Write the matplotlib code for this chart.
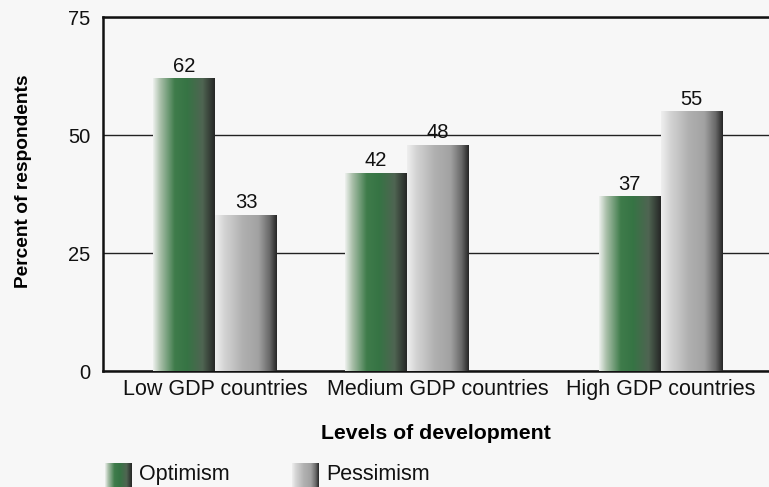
import numpy as np
import matplotlib
matplotlib.use('agg')
import matplotlib.pyplot as plt
from matplotlib.colors import LinearSegmentedColormap
from matplotlib.patches import Rectangle

categories = ['Low GDP countries', 'Medium GDP countries', 'High GDP countries']
optimism = [62, 42, 37]
pessimism = [33, 48, 55]
series_names = ['Optimism', 'Pessimism']

plt.rcParams['font.family'] = ['Liberation Sans', 'DejaVu Sans']
bg = '#f7f7f7'
fs = 14.5

# horizontal shading so the bars look rounded
green_cmap = LinearSegmentedColormap.from_list(
    'green_bar', [(0.0, '#eef1ee'), (0.12, '#a9bfa9'), (0.35, '#3f7c4b'),
                  (0.55, '#367444'), (0.8, '#4f6552'), (1.0, '#262626')])
grey_cmap = LinearSegmentedColormap.from_list(
    'grey_bar', [(0.0, '#efefef'), (0.15, '#d4d4d4'), (0.45, '#b0b0b0'),
                 (0.7, '#a2a2a2'), (0.88, '#6a6a6a'), (1.0, '#262626')])
ramp = np.linspace(0, 1, 256).reshape(1, -1)


def shade_bars(ax, bars, cmap):
    for b in bars:
        x0, y0 = b.get_x(), b.get_y()
        w, h = b.get_width(), b.get_height()
        b.set_facecolor('none')
        b.set_edgecolor('none')
        img = ax.imshow(ramp, cmap=cmap, aspect='auto',
                        extent=[x0, x0 + w, y0, y0 + h], zorder=3)
        clip = Rectangle((x0, y0), w, h, transform=ax.transData)
        img.set_clip_path(clip)


fig = plt.figure(figsize=(7.69, 4.87), dpi=100, facecolor=bg)
ax = fig.add_axes([0.134, 0.238, 0.866, 0.727])
ax.set_facecolor(bg)

x = np.arange(len(categories))
# the middle pair sits a little left of its label
group_x = x + np.array([0.0, -0.139, 0.0])
width = 0.278
bars_opt = ax.bar(group_x - width / 2, optimism, width, zorder=3)
bars_pes = ax.bar(group_x + width / 2, pessimism, width, zorder=3)
shade_bars(ax, bars_opt, green_cmap)
shade_bars(ax, bars_pes, grey_cmap)

for xs, vals in ((group_x - width / 2, optimism), (group_x + width / 2, pessimism)):
    for xi, v in zip(xs, vals):
        ax.text(xi, v + 0.6, str(v), ha='center', va='bottom',
                fontsize=fs, color='#111111', zorder=4)

ax.set_xlim(-0.502, 2.485)
ax.set_ylim(0, 75)
ax.set_yticks([0, 25, 50, 75])
ax.set_xticks(x)
ax.set_xticklabels(categories, fontsize=15.5)
ax.tick_params(axis='both', length=0, colors='#111111')
ax.tick_params(axis='y', labelsize=fs, pad=9)
ax.tick_params(axis='x', pad=6)
ax.grid(axis='y', color='#222222', linewidth=1.0, zorder=1)
ax.set_axisbelow(True)
for side in ('left', 'bottom', 'top'):
    ax.spines[side].set_linewidth(1.8)
    ax.spines[side].set_color('#111111')
ax.spines['right'].set_visible(False)

ax.set_ylabel('Percent of respondents', fontsize=13.8, fontweight='bold')
ax.yaxis.set_label_coords(-0.106, 0.537)
ax.set_xlabel('Levels of development', fontsize=15.3, fontweight='bold',
              labelpad=17)

# legend swatches
for lx, cmap, name in ((0.1365, green_cmap, series_names[0]),
                       (0.380, grey_cmap, series_names[1])):
    lax = fig.add_axes([lx, 0.0, 0.034, 0.05])
    lax.imshow(ramp, cmap=cmap, aspect='auto')
    lax.axis('off')
    fig.text(lx + 0.044, 0.026, name, fontsize=15.5, va='center',
             color='#111111')

fig.savefig('out.png', dpi=100, facecolor=bg)
